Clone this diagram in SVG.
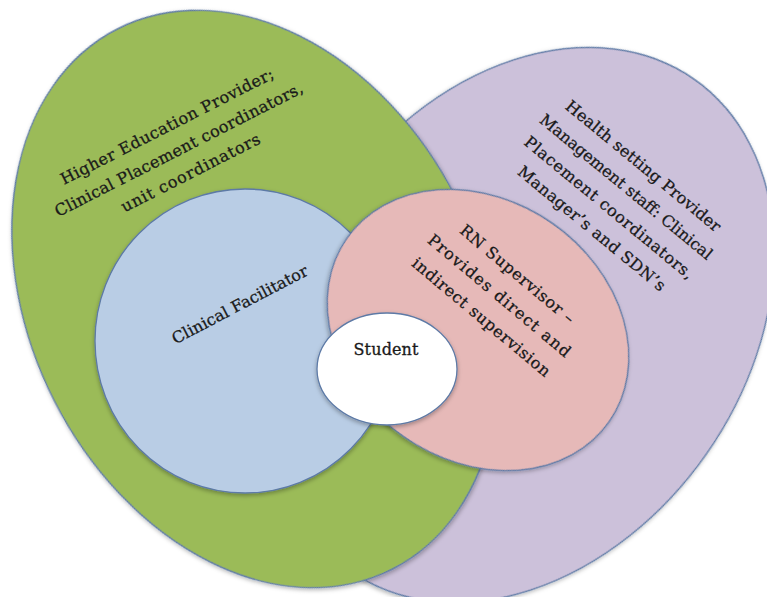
<svg xmlns="http://www.w3.org/2000/svg" width="767" height="597" viewBox="0 0 767 597">
  <defs>
    <filter id="soft" x="-10%" y="-10%" width="120%" height="120%">
      <feDropShadow dx="0" dy="2" stdDeviation="2" flood-color="#000" flood-opacity="0.3"/>
    </filter>
  </defs>
  <style>
    .shape { stroke: #5d7aa6; stroke-width: 1.3; filter: url(#soft); }
    .label { font-family: "DejaVu Serif", "Liberation Serif", serif; font-size: 16px; fill: #1a1a1a; stroke: #1a1a1a; stroke-width: 0.3; text-anchor: middle; }
  </style>
  <rect width="767" height="597" fill="#ffffff"/>

  <!-- Health setting provider (back) -->
  <g id="health-setting-provider">
    <ellipse class="shape" cx="522" cy="325" rx="225" ry="300" transform="rotate(35 522 325)" fill="#ccc1da"/>
  </g>

  <!-- Higher education provider -->
  <g id="higher-education-provider">
    <ellipse class="shape" cx="255" cy="299" rx="225" ry="303" transform="rotate(-27 255 299)" fill="#9bbb59"/>
  </g>

  <!-- Clinical facilitator -->
  <g id="clinical-facilitator">
    <ellipse class="shape" cx="245" cy="341" rx="150" ry="152" fill="#b9cde5"/>
  </g>

  <!-- RN supervisor -->
  <g id="rn-supervisor">
    <ellipse class="shape" cx="478" cy="330" rx="160" ry="130" transform="rotate(35 478 330)" fill="#e6b9b8"/>
  </g>

  <!-- Student -->
  <g id="student">
    <ellipse class="shape" cx="387" cy="369" rx="70" ry="56" fill="#ffffff"/>
  </g>

  <!-- Labels -->
  <g id="labels">
    <g transform="translate(179 150) rotate(-27)">
      <text class="label" x="0" y="-21" textLength="237">Higher Education Provider;</text>
      <text class="label" x="0" y="5" textLength="276">Clinical Placement coordinators,</text>
      <text class="label" x="0" y="31" textLength="154">unit coordinators</text>
    </g>
    <g transform="translate(617 198) rotate(39.5)">
      <text class="label" x="0" y="-36" textLength="196">Health setting Provider</text>
      <text class="label" x="0" y="-9" textLength="218">Management staff: Clinical</text>
      <text class="label" x="0" y="18" textLength="214">Placement coordinators,</text>
      <text class="label" x="0" y="45" textLength="186">Manager’s and SDN’s</text>
    </g>
    <g transform="translate(499 296) rotate(40)">
      <text class="label" x="0" y="-23" textLength="144">RN Supervisor –</text>
      <text class="label" x="0" y="5" textLength="181">Provides direct and</text>
      <text class="label" x="0" y="33" textLength="175">indirect supervision</text>
    </g>
    <g transform="translate(240 305) rotate(-27.6)">
      <text class="label" x="0" y="5" textLength="151">Clinical Facilitator</text>
    </g>
    <text class="label" x="386" y="355" textLength="65">Student</text>
  </g>
</svg>
